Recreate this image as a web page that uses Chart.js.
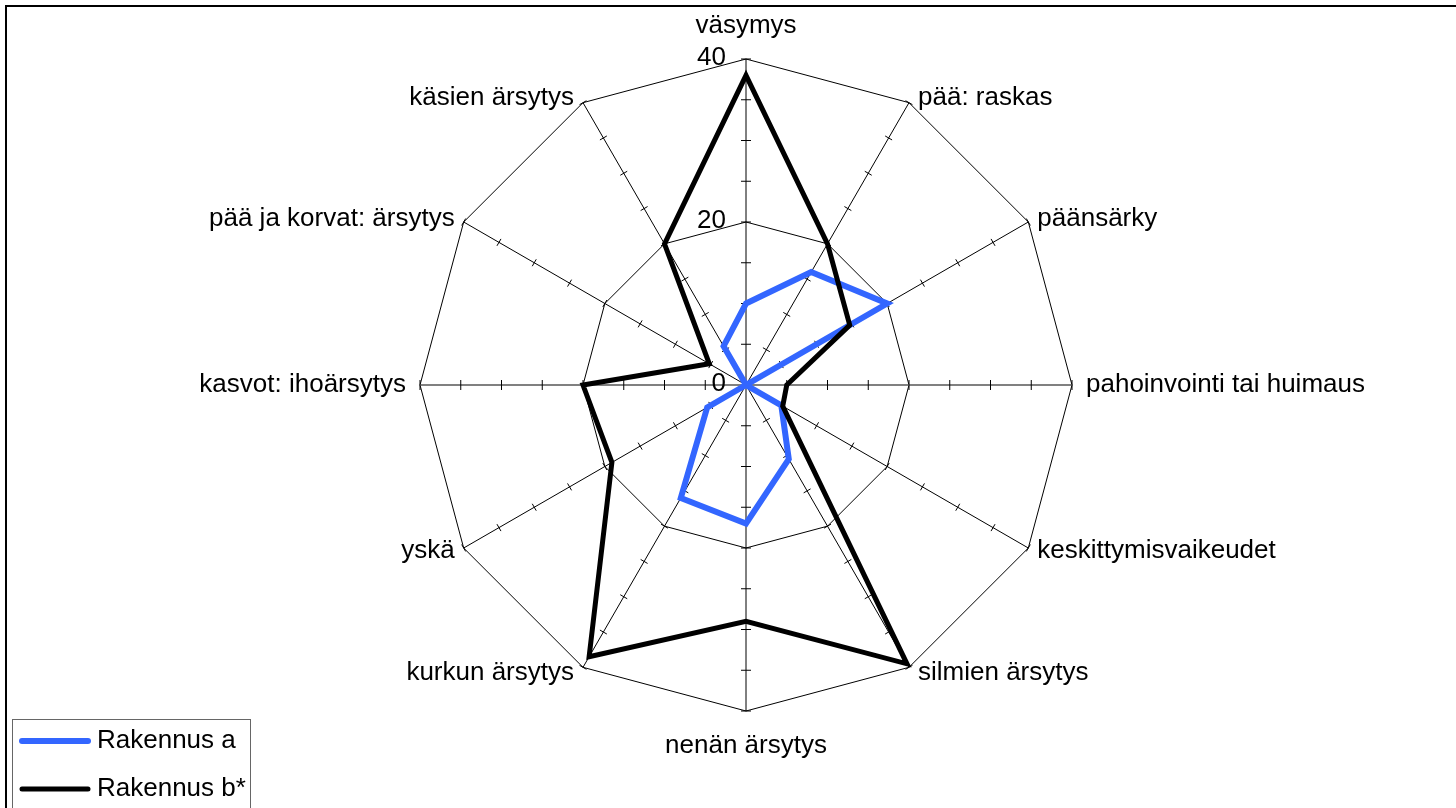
<!DOCTYPE html>
<html>
<head>
<meta charset="utf-8">
<script src="https://cdn.jsdelivr.net/npm/chart.js@4"></script>
<style>
  html, body { margin: 0; padding: 0; background: #fff; }
  #wrap { width: 1456px; height: 808px; position: relative; }
</style>
</head>
<body>
<div id="wrap"><canvas id="radar" width="1456" height="808"></canvas></div>
<script>
const categories = [
  'väsymys',
  'pää: raskas',
  'päänsärky',
  'pahoinvointi tai huimaus',
  'keskittymisvaikeudet',
  'silmien ärsytys',
  'nenän ärsytys',
  'kurkun ärsytys',
  'yskä',
  'kasvot: ihoärsytys',
  'pää ja korvat: ärsytys',
  'käsien ärsytys'
];
const rakennusA = [10, 16, 20, 0, 5, 10.5, 17, 16, 5.5, 0, 0, 5.5];
const rakennusB = [38, 20, 14.7, 5, 5.2, 39.5, 29, 38.5, 19, 20, 5.2, 20];
const tickLabels = [0, 20, 40];
const seriesNames = ['Rakennus a', 'Rakennus b*'];
const seriesColors = ['#3366ff', '#000000'];

const FONT = '26px "Liberation Sans", Arial, sans-serif';

// little cross marks every 5 units on each spoke
const spokeTicks = {
  id: 'spokeTicks',
  beforeDatasetsDraw(chart) {
    const scale = chart.scales.r;
    const ctx = chart.ctx;
    ctx.save();
    ctx.strokeStyle = '#000';
    ctx.lineWidth = 1;
    for (let i = 0; i < categories.length; i++) {
      const a = scale.getIndexAngle(i) - Math.PI / 2;
      const nx = -Math.sin(a), ny = Math.cos(a);
      const len = (i % 3 === 0) ? 5 : 4;
      for (let v = 5; v <= 40; v += 5) {
        const p = scale.getPointPositionForValue(i, v);
        ctx.beginPath();
        ctx.moveTo(p.x - nx * len, p.y - ny * len);
        ctx.lineTo(p.x + nx * len, p.y + ny * len);
        ctx.stroke();
      }
    }
    ctx.restore();
  }
};

// category labels, value labels, legend and frame
const decorations = {
  id: 'decorations',
  afterDraw(chart) {
    const scale = chart.scales.r;
    const ctx = chart.ctx;
    ctx.save();
    ctx.font = FONT;
    ctx.fillStyle = '#000';
    ctx.textBaseline = 'middle';

    categories.forEach((name, i) => {
      const p = scale.getPointPositionForValue(i, 40);
      const a = scale.getIndexAngle(i);
      const sx = Math.sin(a), cy = -Math.cos(a);
      let x = p.x, y = p.y;
      if (Math.abs(sx) < 0.01) {
        ctx.textAlign = 'center';
        y += cy < 0 ? -33 : 35;
      } else {
        ctx.textAlign = sx > 0 ? 'left' : 'right';
        x += (sx > 0 ? 1 : -1) * (Math.abs(sx) > 0.99 ? 14 : 9);
        y += cy * 6;
      }
      ctx.fillText(name, x, y);
    });

    ctx.textAlign = 'right';
    tickLabels.forEach(v => {
      const p = scale.getPointPositionForValue(0, v);
      ctx.fillText(String(v), scale.xCenter - 20, p.y - 1);
    });

    // legend
    ctx.strokeStyle = '#666';
    ctx.lineWidth = 1;
    ctx.strokeRect(12.5, 719.5, 238, 120);
    ctx.textAlign = 'left';
    chart.data.datasets.forEach((ds, k) => {
      const y = 741 + k * 48;
      ctx.beginPath();
      ctx.lineCap = 'round';
      ctx.strokeStyle = ds.borderColor;
      ctx.lineWidth = ds.borderWidth;
      ctx.moveTo(22, y);
      ctx.lineTo(88, y);
      ctx.stroke();
      ctx.fillStyle = '#000';
      ctx.fillText(ds.label, 97, y);
    });

    // frame (top and left edges only)
    ctx.fillStyle = '#000';
    ctx.fillRect(5, 5, 1451, 2);
    ctx.fillRect(5, 5, 2, 803);
    ctx.restore();
  }
};

new Chart(document.getElementById('radar'), {
  type: 'radar',
  data: {
    labels: categories,
    datasets: [
      { label: seriesNames[0], data: rakennusA, borderColor: seriesColors[0], borderWidth: 6, fill: false, pointRadius: 0, order: 1 },
      { label: seriesNames[1], data: rakennusB, borderColor: seriesColors[1], borderWidth: 5, fill: false, pointRadius: 0, order: 0 }
    ]
  },
  options: {
    responsive: false,
    animation: false,
    layout: { padding: { top: 59, bottom: 97, left: 400, right: 364 } },
    plugins: { legend: { display: false }, tooltip: { enabled: false } },
    elements: { line: { tension: 0, borderJoinStyle: 'miter' } },
    scales: {
      r: {
        min: 0,
        max: 40,
        ticks: { stepSize: 20, display: false },
        grid: { color: '#000', lineWidth: 1 },
        angleLines: {
          color: c => (c.index === 3 || c.index === 9) ? '#808080' : '#000',
          lineWidth: c => (c.index === 3 || c.index === 9) ? 2 : 1
        },
        pointLabels: { display: false }
      }
    }
  },
  plugins: [spokeTicks, decorations]
});
</script>
</body>
</html>
